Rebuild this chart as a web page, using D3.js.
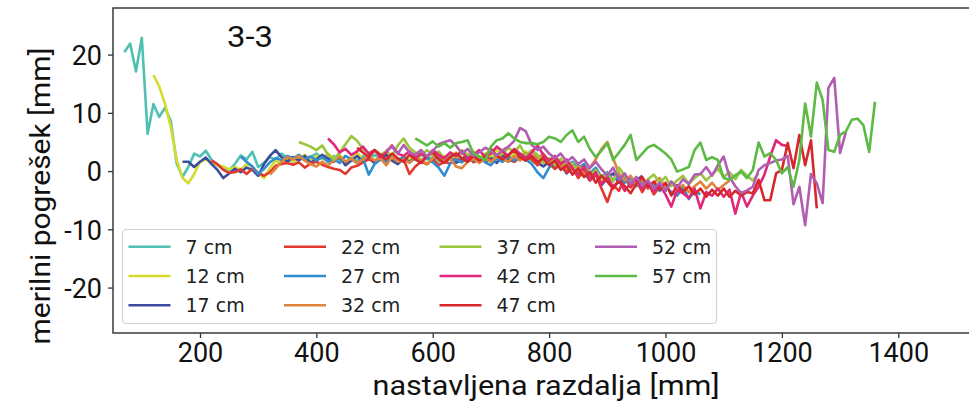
<!DOCTYPE html>
<html>
<head>
<meta charset="utf-8">
<script src="https://cdn.jsdelivr.net/npm/d3@7"></script>
<style>
  html, body { margin: 0; padding: 0; background: #fff; }
  svg { display: block; }
</style>
</head>
<body>
<svg id="chart" width="969" height="409"></svg>
<script>
// Series: sensor height, first set distance (mm), measured error (mm) every 10 mm
const seriesLabels = ["7 cm", "12 cm", "17 cm", "22 cm", "27 cm", "32 cm", "37 cm", "42 cm", "47 cm", "52 cm", "57 cm"];
const seriesStarts = [70, 120, 170, 220, 270, 320, 370, 420, 470, 520, 570];
const seriesColors = ["#4fc0b2", "#d5dc2c", "#3d4b9e", "#e2392e", "#2f8dd0", "#e0843c", "#9cc53e", "#e0287b", "#d7262c", "#b05db2", "#5cba45"];
const stepMm = 10;

const err7 = [20.4, 21.9, 17.1, 22.9, 6.4, 11.5, 9.3, 10.9, 8.5, 1.3, -1.0, 0.7, 3.0, 2.5, 3.5, 1.9, 1.0, 0.4, 0.2, 1.2, 2.7, 2.0, 3.3, 0.7, 1.4, 2.4, 2.0, 3.0, 2.2, 1.6, 2.6, 1.8, 2.4, 3.0, 2.2, 1.8, 2.6, 2.0, 1.4, 2.4, 1.8, 2.6, 2.0, 2.8, 2.2, 1.8, 2.6, 2.0, 2.4, 1.6, 2.2, 2.8, 2.0, 2.4, 1.6, 2.2, 2.8, 1.8, 2.4, 2.0, 2.6, 1.8, 2.4, 2.0, 2.8, 2.2, 1.6, 2.4, 2.0, 2.6, 1.8, 1.2, 2.0, 1.4, 0.8, 1.6, 0.4, 1.0, 0.2, 0.6];
const err12 = [16.5, 14.5, 11.5, 7.5, 1.9, -1.2, -2.1, -0.5, 1.6, 2.0, 1.5, 1.0, 0.8, 0.3, 0.7, 0.2, 1.2, 0.8, -0.4, -1.2, 0.5, 1.8, 1.2, 2.4, 1.6, 2.0, 2.8, 1.8, 2.6, 2.0, 3.0, 2.2, 2.8, 1.6, 2.4, 3.2, 2.0, 2.6, 1.8, 2.4, 3.0, 2.2, 1.6, 2.6, 2.0, 2.8, 3.6, 2.4, 3.0, 1.8, 2.6, 2.0, 3.2, 2.4, 1.6, 2.8, 2.2, 3.0, 2.4, 3.6, 2.8, 2.0, 3.0, 2.4, 3.4, 2.2, 1.6, 2.6, 1.8, 1.0, 2.2, 0.4, 1.2, -0.4, 0.6, -1.0, 0.0, -1.6, -0.6, -2.0];
const err17 = [1.6, 1.6, 0.7, 1.6, 2.3, 1.2, 0.2, -1.2, -0.4, 0.4, -0.2, 0.6, 0.2, -0.8, 1.2, 2.6, 3.6, 2.4, 1.6, 2.4, 1.8, 2.6, 1.4, 2.0, 2.8, 2.2, 1.6, 2.4, 1.0, 1.8, 2.6, 1.6, 2.2, 1.4, 2.0, 2.8, 1.8, 1.2, 2.2, 1.6, 2.4, 1.8, 1.2, 2.0, 2.6, 1.6, 2.2, 1.4, 2.0, 2.8, 1.8, 2.4, 1.6, 2.2, 1.4, 2.6, 2.0, 1.6, 2.4, 1.8, 2.6, 1.4, 0.8, 1.6, 0.4, 1.2, -0.4, 0.6, -1.0, -0.2, -1.6, -0.6, -2.4, -1.2, -0.4, -2.0, -1.0, -2.6, -1.6, -0.8];
const err22 = [1.8, 1.2, 0.2, -0.3, -0.2, 0.3, -0.5, 0.4, -0.3, -0.8, -0.2, 0.9, 1.2, 1.4, 1.1, 1.5, 0.6, 1.3, 1.6, 1.1, 0.7, 0.4, 0.2, -0.5, 0.6, 0.9, 1.5, 2.0, 1.8, 2.3, 1.5, 2.4, 1.8, 2.0, -0.5, 0.8, 1.6, 1.2, 2.0, 1.0, 1.6, 1.3, 2.2, 1.6, 2.6, 1.5, 2.1, 2.8, 1.7, 2.4, 3.2, 2.3, 1.6, 2.6, 3.0, 2.0, 1.0, 2.5, 1.2, 0.4, 1.6, -0.2, 0.8, -1.2, 0.2, -1.6, -0.6, -3.0, -5.3, -2.4, -3.4, -1.0, -2.8, -1.6, -3.6, -2.0, -4.0, -2.6, -3.4, -1.8];
const err27 = [2.5, 1.6, 0.8, -0.5, 0.4, 1.5, 2.2, 1.9, 2.6, 2.2, 2.8, 2.0, 2.5, 1.8, 2.4, 1.6, 2.1, 1.4, 2.6, 2.0, 1.4, 2.2, -0.6, 1.2, 2.0, 1.6, 2.4, 1.8, 2.4, 1.5, 2.2, 1.7, 2.4, 1.5, 0.6, -0.8, 1.3, 2.0, 1.5, 2.3, 1.8, 2.4, 1.5, 1.0, 2.2, 1.6, 2.5, 1.8, 2.8, 2.0, 1.2, -0.2, -1.2, 0.6, 1.8, 1.2, 0.8, 1.6, 0.5, 1.2, -0.4, 0.6, -1.0, -0.2, -1.6, -0.8, -2.0, -1.2, -2.6, -1.8, -3.0, -2.2, -3.4, -2.6, -3.6, -4.2, -2.8, -4.8, -3.4, -4.0];
const err32 = [-0.6, 0.4, 1.6, 2.4, 2.0, 2.6, 1.8, 1.2, 0.8, 1.6, 1.0, 1.8, 2.5, 1.6, 2.2, 1.4, 2.0, 2.6, 1.8, 2.2, 1.0, 2.4, 1.6, 2.0, 1.4, 2.4, 2.0, 1.2, 2.2, 2.8, 1.8, 2.2, 0.8, 0.5, 1.6, 2.1, 1.4, 2.2, 1.6, 2.4, 2.2, 1.6, 2.6, 1.8, 2.8, 3.4, 2.2, 3.0, 1.6, 2.2, 0.8, 1.4, 0.2, 1.0, -0.6, 0.6, 2.0, 3.8, 5.0, 2.2, -0.4, -1.6, -0.8, -2.4, -1.4, -3.0, -2.0, -1.2, -2.8, -1.8, -3.2, -2.4, -3.6, -2.6, -1.8, -3.0, -2.0, -3.2, -2.4, -1.6];
const err37 = [5.0, 4.6, 4.2, 3.6, 4.4, 2.8, 2.0, 3.2, 4.6, 6.0, 5.2, 3.8, 3.0, 3.6, 2.8, 3.4, 2.6, 4.4, 5.6, 4.0, 3.2, 2.6, 3.6, 2.8, 3.4, 2.2, 3.0, 2.4, 3.6, 2.8, 3.4, 2.0, 2.8, 3.6, 2.4, 3.0, 4.0, 3.2, 4.4, 2.6, 3.6, 2.8, 1.4, 2.2, 1.2, 2.0, 0.6, 1.4, -0.2, 0.8, -0.8, 0.2, -1.2, -0.4, -1.8, 0.6, -0.8, -2.0, -1.2, -2.4, -1.4, -0.6, -2.0, -1.0, -2.6, -1.6, -0.8, -2.2, -1.2, -0.4, -1.6, -0.6, 0.4, -1.0, -0.2, -1.4, 0.2, -0.8, -1.6, -0.4];
const err42 = [5.6, 4.6, 3.2, 3.8, 2.8, 3.4, 4.2, 3.0, 3.6, 2.4, 3.2, 4.4, 3.0, 2.6, 3.4, 2.2, 3.0, 2.4, 3.6, 2.8, 2.2, 3.2, 2.6, 3.4, 2.0, 2.8, 3.6, 2.4, 3.0, 4.2, 3.4, 2.6, 3.8, 3.0, 2.2, 3.2, 4.4, 2.8, 1.8, 2.6, 1.2, 2.0, 0.4, -0.6, 0.8, -1.4, -0.2, -2.2, -1.0, -2.8, -1.6, -3.4, -2.0, -1.5, -3.0, -2.2, -3.4, -2.4, -4.0, -6.1, -3.3, -3.8, -4.6, -3.0, -6.4, -3.6, -4.2, -3.0, -4.4, -3.2, -7.3, -3.6, -6.1, -4.2, -2.7, -0.6, 2.5, 5.3, 4.5, 4.3];
const err47 = [4.0, 3.2, 2.4, 3.6, 2.8, 2.0, 3.0, 2.2, 1.6, 2.8, 2.0, 1.4, 2.6, 3.2, 2.0, 1.4, 2.4, 3.0, 2.2, 1.6, 2.6, 1.8, 2.4, 3.8, 2.6, 2.0, 2.8, 3.6, 2.4, 1.8, 2.6, 1.6, 2.2, 1.0, 1.8, 0.2, 1.0, -0.6, 0.4, -1.0, -0.2, -2.0, -0.8, -1.8, -3.0, -1.6, -2.6, -3.8, -2.2, -1.0, -2.8, -1.8, -3.2, -2.0, -4.2, -2.4, -3.6, -2.6, -4.0, -3.0, -4.4, -3.2, -4.2, -3.0, -4.4, -3.4, -4.2, -3.6, -3.8, -1.5, -5.0, -5.0, -0.4, 0.2, 4.8, 0.5, 6.2, 1.0, 5.3, -6.4];
const err52 = [3.5, 4.2, 3.0, 4.5, 3.2, 2.8, 3.6, 2.5, 3.4, 4.6, 5.0, 5.3, 4.4, 3.0, 3.8, 2.6, 3.2, 4.0, 3.5, 2.7, 3.6, 4.2, 5.2, 7.4, 6.8, 4.5, 3.6, 4.2, 3.0, 2.2, 3.0, 1.6, 2.4, 1.2, 2.0, 0.5, 1.6, 0.3, -0.8, 0.6, -1.5, -0.4, -2.2, -1.0, -2.5, -1.6, -3.0, -2.0, -3.4, -1.8, -2.8, -1.4, -2.2, -0.6, -0.5, 0.7, -0.8, 1.0, 2.5, -1.0, -2.6, -3.8, -3.3, -2.7, 0.2, 1.0, 1.4, 1.8, 2.0, 2.6, -5.7, -2.7, -9.3, -0.5, -2.1, -5.5, 14.3, 16.0, 3.1, 6.7];
const err57 = [5.6, 5.0, 4.4, 5.1, 4.2, 4.8, 4.0, 4.8, 5.0, 5.3, 3.0, 2.5, 1.9, 4.2, 5.3, 5.6, 6.5, 5.6, 5.0, 4.8, 4.8, 4.6, 5.0, 5.9, 5.6, 5.0, 6.2, 7.0, 5.0, 5.9, 3.8, 2.4, 3.5, 4.8, 1.9, 3.2, 4.5, 6.2, 1.9, 3.0, 4.1, 4.5, 3.8, 3.0, 2.0, -0.1, 0.3, 0.7, 3.6, 4.9, 1.9, 2.4, 1.9, -1.2, -1.5, -0.7, -0.1, -1.2, 0.2, 4.9, 2.5, 3.1, 1.9, -0.4, 0.7, -2.7, 1.9, 11.6, 5.9, 15.2, 12.2, 3.6, 3.3, 6.2, 6.8, 8.8, 9.0, 7.9, 3.3, 11.9];
const seriesValues = [err7, err12, err17, err22, err27, err32, err37, err42, err47, err52, err57];

const xTicks = [200, 400, 600, 800, 1000, 1200, 1400];
const yTicks = [-20, -10, 0, 10, 20];
const panelTitle = "3-3";
const xTitle = "nastavljena razdalja [mm]";
const yTitle = "merilni pogrešek [mm]";

const svg = d3.select("#chart");
const plot = { left: 113, top: 8, right: 971, bottom: 333 };

const x = d3.scaleLinear().domain([50.5, 1525]).range([plot.left, plot.right]);
const y = d3.scaleLinear().domain([-27.8, 28]).range([plot.bottom, plot.top]);

const axisFont = "Roboto, 'Open Sans', sans-serif";

svg.append("clipPath").attr("id", "plotClip")
  .append("rect")
  .attr("x", plot.left).attr("y", plot.top)
  .attr("width", plot.right - plot.left).attr("height", plot.bottom - plot.top);

// Measurement curves
const series = seriesLabels.map((label, i) => ({
  label,
  color: seriesColors[i],
  points: seriesValues[i].map((v, k) => [seriesStarts[i] + k * stepMm, v])
}));

const line = d3.line().x(d => x(d[0])).y(d => y(d[1]));

svg.append("g").attr("clip-path", "url(#plotClip)")
  .selectAll("path").data(series).join("path")
  .attr("d", d => line(d.points))
  .attr("fill", "none")
  .attr("stroke", d => d.color)
  .attr("stroke-width", 2.6)
  .attr("stroke-linejoin", "round")
  .attr("stroke-linecap", "butt");

// Axes
const xAxis = svg.append("g")
  .attr("transform", `translate(0,${plot.bottom})`)
  .call(d3.axisBottom(x).tickValues(xTicks).tickSize(5).tickPadding(4).tickFormat(d3.format("d")));
const yAxis = svg.append("g")
  .attr("transform", `translate(${plot.left},0)`)
  .call(d3.axisLeft(y).tickValues(yTicks).tickSize(5).tickPadding(6).tickFormat(d => d < 0 ? "-" + Math.abs(d) : String(d)));

[xAxis, yAxis].forEach(g => {
  g.select(".domain").remove();
  g.selectAll(".tick line").attr("stroke", "#333").attr("stroke-width", 1.3);
  g.selectAll(".tick text")
    .attr("fill", "#111")
    .style("font-family", axisFont)
    .style("font-size", "27px");
});
xAxis.selectAll(".tick text").attr("y", 0).attr("dy", 0)
  .attr("transform", "translate(0,29)");
yAxis.selectAll(".tick text").attr("dy", "0.36em");

// Frame (right side runs past the canvas edge)
svg.append("path")
  .attr("d", `M${plot.right},${plot.top}H${plot.left}V${plot.bottom}H${plot.right}`)
  .attr("fill", "none")
  .attr("stroke", "#3a3a3a")
  .attr("stroke-width", 1.5);

// Titles
svg.append("text")
  .attr("x", 546).attr("y", 395)
  .attr("text-anchor", "middle")
  .attr("textLength", 347).attr("lengthAdjust", "spacingAndGlyphs")
  .style("font-family", axisFont).style("font-size", "27px").attr("fill", "#111")
  .text(xTitle);

svg.append("text")
  .attr("transform", "translate(50,196) rotate(-90)")
  .attr("text-anchor", "middle")
  .attr("textLength", 297).attr("lengthAdjust", "spacingAndGlyphs")
  .style("font-family", axisFont).style("font-size", "28px").attr("fill", "#111")
  .text(yTitle);

svg.append("text")
  .attr("x", 227).attr("y", 47)
  .attr("textLength", 46).attr("lengthAdjust", "spacingAndGlyphs")
  .style("font-family", axisFont).style("font-size", "29px").attr("fill", "#111")
  .text(panelTitle);

// Legend, 4 columns filled top to bottom
const legend = svg.append("g");
legend.append("rect")
  .attr("x", 122.5).attr("y", 229.5).attr("width", 594).attr("height", 94)
  .attr("rx", 4).attr("ry", 4)
  .attr("fill", "#fff").attr("fill-opacity", 0.85)
  .attr("stroke", "#d2d2d2").attr("stroke-width", 1.2);

const legendRows = 3, colStep = 155.5, rowStep = 29.3;
const items = legend.selectAll("g.item").data(series).join("g")
  .attr("class", "item")
  .attr("transform", (d, i) => `translate(${128.5 + Math.floor(i / legendRows) * colStep},${246.7 + (i % legendRows) * rowStep})`);
items.append("line")
  .attr("x1", 0).attr("x2", 42).attr("y1", 0).attr("y2", 0)
  .attr("stroke", d => d.color).attr("stroke-width", 2.6);
items.append("text")
  .attr("x", 57).attr("y", 0).attr("dy", "0.36em")
  .style("font-family", "'DejaVu Sans', sans-serif").style("font-size", "19px")
  .attr("fill", "#222")
  .text(d => d.label);
</script>
</body>
</html>
